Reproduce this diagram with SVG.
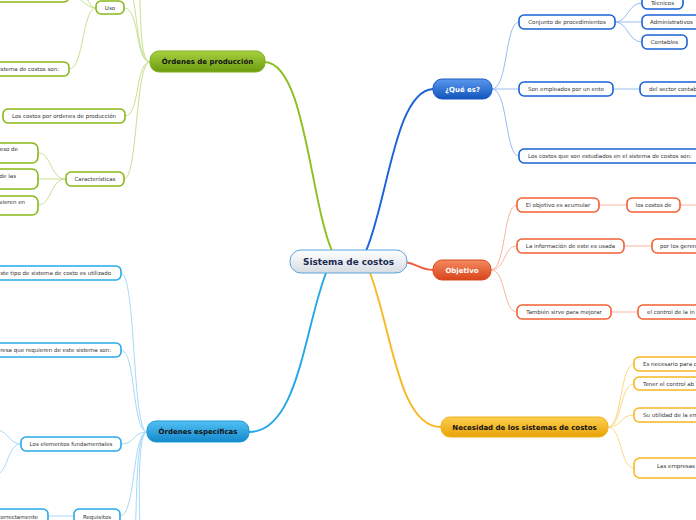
<svg xmlns="http://www.w3.org/2000/svg" width="696" height="520" viewBox="0 0 696 520">
<defs>
<linearGradient id="gC" x1="0" y1="0" x2="0" y2="1"><stop offset="0" stop-color="#ffffff"/><stop offset="1" stop-color="#d6dce2"/></linearGradient>
<linearGradient id="gB" x1="0" y1="0" x2="0" y2="1"><stop offset="0" stop-color="#5a98ee"/><stop offset="1" stop-color="#1254bc"/></linearGradient>
<linearGradient id="gO" x1="0" y1="0" x2="0" y2="1"><stop offset="0" stop-color="#f58a60"/><stop offset="1" stop-color="#d8441a"/></linearGradient>
<linearGradient id="gY" x1="0" y1="0" x2="0" y2="1"><stop offset="0" stop-color="#fcd050"/><stop offset="1" stop-color="#e8a208"/></linearGradient>
<linearGradient id="gG" x1="0" y1="0" x2="0" y2="1"><stop offset="0" stop-color="#a8d040"/><stop offset="1" stop-color="#6c9c10"/></linearGradient>
<linearGradient id="gS" x1="0" y1="0" x2="0" y2="1"><stop offset="0" stop-color="#50c0f4"/><stop offset="1" stop-color="#1588cc"/></linearGradient>
</defs>
<style>
text{font-family:"DejaVu Sans",Verdana,sans-serif;}
.sub{font-size:5.5px;fill:#333;}
.main{font-size:7px;font-weight:bold;text-anchor:middle;}
.w{fill:#ffffff;}
.k{fill:#111;}
.n{fill:#fff;stroke-width:1.6;}
.nb{stroke:#1a62d6;}
.no{stroke:#f26034;}
.ny{stroke:#f8b820;}
.ng{stroke:#88b818;}
.ns{stroke:#28aae8;}
.c{fill:none;stroke-width:1;}
.m{stroke-width:1.9;}
.cb{stroke:#98bcf0;}
.co{stroke:#f8b4a2;}
.cy{stroke:#fcd884;}
.cg{stroke:#c8e094;}
.cs{stroke:#a6daf8;}
.mid{text-anchor:middle;}
.end{text-anchor:end;}
</style>
<g id="connectors">
<path class="c m" stroke="#8cc020" d="M332 251 C310 200 305 64 265 62"/>
<path class="c m" stroke="#1a62d8" d="M366 251 C388 200 395 91 433 89"/>
<path class="c m" stroke="#f06040" d="M405 262 C418 264 420 270 433 270"/>
<path class="c m" stroke="#f8b820" d="M370 273 C392 330 398 427 441 427"/>
<path class="c m" stroke="#22a8e8" d="M326 273 C304 330 298 432 249 432"/>
<path class="c cb" d="M492 89 C508 89 505 22 519 22"/>
<path class="c cb" d="M492 89 L519 89"/>
<path class="c cb" d="M492 89 C508 89 505 156 519 156"/>
<path class="c cb" d="M615 22 C628 22 628 3 642 3"/>
<path class="c cb" d="M615 22 L642 22"/>
<path class="c cb" d="M615 22 C628 22 628 42 642 42"/>
<path class="c cb" d="M613 89 L640 89"/>
<path class="c co" d="M491 270 C506 270 503 205 517 205"/>
<path class="c co" d="M491 270 C506 270 503 246 517 246"/>
<path class="c co" d="M491 270 C506 270 503 312 517 312"/>
<path class="c co" d="M599 205 L627 205"/>
<path class="c co" d="M680 205 L700 205"/>
<path class="c co" d="M624 246 L652 246"/>
<path class="c co" d="M611 312 L638 312"/>
<path class="c cy" d="M608 427 C622 427 620 364 634 364"/>
<path class="c cy" d="M608 427 C622 427 620 384 634 384"/>
<path class="c cy" d="M608 427 C622 427 620 415 634 415"/>
<path class="c cy" d="M608 427 C622 427 620 468 634 468"/>
<path class="c cg" d="M150 62 C135 62 140 8 124 8"/>
<path class="c cg" d="M150 62 C136 62 138 0 128 -20"/>
<path class="c cg" d="M150 62 C138 62 142 0 138 -20"/>
<path class="c cg" d="M150 62 C135 62 140 116 125 116"/>
<path class="c cg" d="M150 62 C135 62 138 179 124 179"/>
<path class="c cg" d="M96 8 C82 8 84 69 69 69"/>
<path class="c cg" d="M96 8 C85 8 82 -4 69 -4"/>
<path class="c cg" d="M96 8 C88 8 85 -10 78 -20"/>
<path class="c cg" d="M66 179 C50 179 52 153 38 153"/>
<path class="c cg" d="M66 179 L38 179"/>
<path class="c cg" d="M66 179 C50 179 52 205 38 205"/>
<path class="c cs" d="M147 432 C132 432 136 273 121 273"/>
<path class="c cs" d="M147 432 C132 432 136 350 121 350"/>
<path class="c cs" d="M147 432 C132 432 136 444 121 444"/>
<path class="c cs" d="M147 432 C132 432 136 516 120 516"/>
<path class="c cs" d="M147 432 C134 432 138 520 134 540"/>
<path class="c cs" d="M147 432 C136 432 140 520 140 540"/>
<path class="c cs" d="M21 444 C10 444 8 432 -2 430"/>
<path class="c cs" d="M21 444 C8 444 8 470 -2 474"/>
<path class="c cs" d="M74 516 L48 516"/>
</g>
<g id="center">
<rect x="290" y="250" width="117" height="23" rx="11" fill="url(#gC)" stroke="#5aa4dc" stroke-width="1"/>
<text x="348.5" y="264.5" class="mid" font-size="8.9" font-weight="bold" fill="#1a2a50">Sistema de costos</text>
</g>
<g id="que-es">
<rect x="433" y="79" width="59" height="20" rx="9" fill="url(#gB)" stroke="#1a5ac0" stroke-width="1"/>
<text x="462.5" y="91.5" class="main w">¿Qué es?</text>
</g>
<g id="objetivo">
<rect x="433" y="260" width="58" height="20" rx="9" fill="url(#gO)" stroke="#d84a1e" stroke-width="1"/>
<text x="462" y="272.5" class="main w">Objetivo</text>
</g>
<g id="necesidad">
<rect x="441" y="417" width="167" height="20" rx="9" fill="url(#gY)" stroke="#f0b018" stroke-width="1"/>
<text x="524.5" y="429.5" class="main k">Necesidad de los sistemas de costos</text>
</g>
<g id="ordenes-produccion">
<rect x="150" y="51" width="115" height="21" rx="9" fill="url(#gG)" stroke="#80b018" stroke-width="1"/>
<text x="207.5" y="64" class="main k">Órdenes de producción</text>
</g>
<g id="ordenes-especificas">
<rect x="147" y="421" width="102" height="21" rx="9" fill="url(#gS)" stroke="#1a98d8" stroke-width="1"/>
<text x="198" y="434" class="main k">Órdenes específicas</text>
</g>
<g id="conjunto"><rect class="n nb" x="519" y="15" width="96" height="14" rx="5"/><text class="sub mid" x="567" y="24">Conjunto de procedimientos</text></g>
<g id="tecnicos"><rect class="n nb" x="642" y="-4" width="41" height="13" rx="5"/><text class="sub mid" x="662.5" y="5">Técnicos</text></g>
<g id="administrativos"><rect class="n nb" x="642" y="15" width="60" height="14" rx="5"/><text class="sub" x="650" y="24">Administrativos</text></g>
<g id="contables"><rect class="n nb" x="642" y="35" width="45" height="14" rx="5"/><text class="sub mid" x="664.5" y="44">Contables</text></g>
<g id="empleados"><rect class="n nb" x="519" y="82" width="94" height="14" rx="5"/><text class="sub mid" x="566" y="91">Son empleados por un ente</text></g>
<g id="sector"><rect class="n nb" x="640" y="82" width="70" height="14" rx="5"/><text class="sub" x="649" y="91">del sector contab</text></g>
<g id="estudiados"><rect class="n nb" x="519" y="149" width="190" height="14" rx="5"/><text class="sub" x="528" y="158">Los costos que son estudiados en el sistema de costos son:</text></g>
<g id="acumular"><rect class="n no" x="517" y="198" width="82" height="14" rx="5"/><text class="sub mid" x="558" y="207">El objetivo es acumular</text></g>
<g id="costosde"><rect class="n no" x="627" y="198" width="53" height="14" rx="5"/><text class="sub mid" x="653.5" y="207">los costos de</text></g>
<g id="informacion"><rect class="n no" x="517" y="239" width="107" height="14" rx="5"/><text class="sub mid" x="570.5" y="248">La información de este es usada</text></g>
<g id="gerentes"><rect class="n no" x="652" y="239" width="60" height="14" rx="5"/><text class="sub" x="660" y="248">por los geren</text></g>
<g id="mejorar"><rect class="n no" x="517" y="305" width="94" height="14" rx="5"/><text class="sub mid" x="564" y="314">También sirve para mejorar</text></g>
<g id="control"><rect class="n no" x="638" y="305" width="70" height="14" rx="5"/><text class="sub" x="647" y="314">el control de la in</text></g>
<g id="necesario"><rect class="n ny" x="634" y="357" width="70" height="14" rx="5"/><text class="sub" x="643" y="366">Es necesario para c</text></g>
<g id="tener"><rect class="n ny" x="634" y="377" width="70" height="13" rx="5"/><text class="sub" x="643" y="385.5">Tener el control ab</text></g>
<g id="utilidad"><rect class="n ny" x="634" y="408" width="70" height="14" rx="5"/><text class="sub" x="643" y="417">Su utilidad de la em</text></g>
<g id="empresas"><rect class="n ny" x="634" y="458" width="70" height="20" rx="6"/><text class="sub" x="657" y="468">Las empresas</text></g>
<g id="top-left"><rect class="n ng" x="-10" y="-12" width="79" height="14" rx="5"/></g>
<g id="uso"><rect class="n ng" x="96" y="1" width="28" height="13" rx="5"/><text class="sub mid" x="110" y="10">Uso</text></g>
<g id="sistema-son"><rect class="n ng" x="-10" y="62" width="79" height="14" rx="5"/><text class="sub end" x="59" y="71">sistema de costos son:</text></g>
<g id="costos-ordenes"><rect class="n ng" x="3" y="109" width="122" height="14" rx="5"/><text class="sub mid" x="64" y="118">Los costos por ordenes de producción</text></g>
<g id="caracteristicas"><rect class="n ng" x="66" y="172" width="58" height="14" rx="5"/><text class="sub mid" x="95" y="181">Características</text></g>
<g id="car1"><rect class="n ng" x="-10" y="143" width="48" height="20" rx="6"/><text class="sub end" x="18" y="151">eso de</text></g>
<g id="car2"><rect class="n ng" x="-10" y="169" width="48" height="20" rx="6"/><text class="sub end" x="16" y="177.5">de las</text></g>
<g id="car3"><rect class="n ng" x="-10" y="196" width="48" height="19" rx="6"/><text class="sub end" x="25" y="204">vieren en</text></g>
<g id="utilizado"><rect class="n ns" x="-10" y="266" width="131" height="14" rx="5"/><text class="sub end" x="111" y="275">ste tipo de sistema de costo es utilizado</text></g>
<g id="requieren"><rect class="n ns" x="-10" y="343" width="131" height="14" rx="5"/><text class="sub end" x="111" y="352">resa que requieren de este sistema son:</text></g>
<g id="elementos"><rect class="n ns" x="21" y="437" width="100" height="14" rx="5"/><text class="sub mid" x="71" y="446">Los elementos fundamentales</text></g>
<g id="requisitos"><rect class="n ns" x="74" y="509" width="46" height="15" rx="5"/><text class="sub mid" x="97" y="519">Requisitos</text></g>
<g id="correctamente"><rect class="n ns" x="-10" y="509" width="58" height="15" rx="5"/><text class="sub end" x="38" y="519">correctamente</text></g>
</svg>
